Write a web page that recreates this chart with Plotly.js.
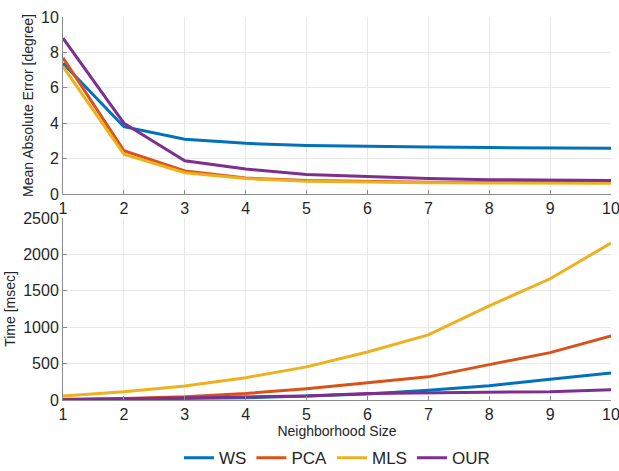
<!DOCTYPE html>
<html>
<head>
<meta charset="utf-8">
<script src="https://cdn.plot.ly/plotly-3.0.1.min.js"></script>
<style>html,body{margin:0;padding:0;background:#fff;}#chart{width:619px;height:471px;}</style>
</head>
<body>
<div id="chart"></div>
<script>
const neighborhood = [1, 2, 3, 4, 5, 6, 7, 8, 9, 10];
const seriesNames = ['WS', 'PCA', 'MLS', 'OUR'];
const colors = ['#0072BD', '#D95319', '#EDB120', '#7E2F8E'];

const maeWS  = [7.38, 3.8, 3.09, 2.86, 2.74, 2.68, 2.65, 2.62, 2.6, 2.58];
const maePCA = [7.7, 2.45, 1.3, 0.9, 0.76, 0.7, 0.67, 0.65, 0.65, 0.65];
const maeMLS = [7.2, 2.25, 1.2, 0.87, 0.72, 0.67, 0.64, 0.62, 0.61, 0.6];
const maeOUR = [8.8, 4.0, 1.88, 1.41, 1.1, 0.97, 0.87, 0.81, 0.79, 0.76];

const timeWS  = [5, 10, 20, 30, 55, 83, 133, 197, 285, 371];
const timePCA = [10, 22, 45, 90, 155, 238, 318, 486, 651, 881];
const timeMLS = [55, 114, 193, 307, 455, 660, 894, 1293, 1665, 2156];
const timeOUR = [5, 15, 25, 35, 55, 90, 100, 110, 114, 142];

const maeAll = [maeWS, maePCA, maeMLS, maeOUR];
const timeAll = [timeWS, timePCA, timeMLS, timeOUR];

const traces = [];
for (let i = 0; i < 4; i++) {
  traces.push({x: neighborhood, y: maeAll[i], xaxis: 'x2', yaxis: 'y2', mode: 'lines',
    name: seriesNames[i], showlegend: false, line: {color: colors[i], width: 3}});
}
for (let i = 0; i < 4; i++) {
  traces.push({x: neighborhood, y: timeAll[i], xaxis: 'x', yaxis: 'y', mode: 'lines',
    name: seriesNames[i], line: {color: colors[i], width: 3}});
}

const font = {family: 'Liberation Sans, Arial, sans-serif', color: '#262626'};
const axCommon = {
  showgrid: true, gridcolor: '#e8e8e8', gridwidth: 1,
  showline: true, linecolor: '#8c8c8c', linewidth: 1,
  ticks: 'inside', ticklen: 4, tickcolor: '#8c8c8c',
  zeroline: false, automargin: false, ticklabeloverflow: 'allow',
  tickfont: {size: 16, color: '#262626'}
};

const layout = {
  width: 619, height: 471,
  margin: {l: 63, r: 8, t: 17, b: 71, autoexpand: false},
  paper_bgcolor: '#fff', plot_bgcolor: '#fff',
  font: font,
  xaxis: Object.assign({}, axCommon, {range: [1, 10], dtick: 1, anchor: 'y',
    title: {text: 'Neighborhood Size', font: {size: 14}, standoff: 2}}),
  yaxis: Object.assign({}, axCommon, {range: [0, 2500], dtick: 500, domain: [0, 0.4752],
    title: {text: 'Time [msec]', font: {size: 14}, standoff: 4}}),
  xaxis2: Object.assign({}, axCommon, {range: [1, 10], dtick: 1, anchor: 'y2'}),
  yaxis2: Object.assign({}, axCommon, {range: [0, 10], dtick: 2, domain: [0.5379, 1],
    title: {text: 'Mean Absolute Error [degree]', font: {size: 14}, standoff: 4}}),
  legend: {orientation: 'h', x: 0.5, xanchor: 'center', y: -0.152, yanchor: 'middle',
    font: {size: 17, color: '#262626'}, itemwidth: 30, tracegroupgap: 0,
    bgcolor: 'rgba(0,0,0,0)'},
  showlegend: true
};

Plotly.newPlot('chart', traces, layout, {displayModeBar: false, staticPlot: true});
</script>
</body>
</html>
